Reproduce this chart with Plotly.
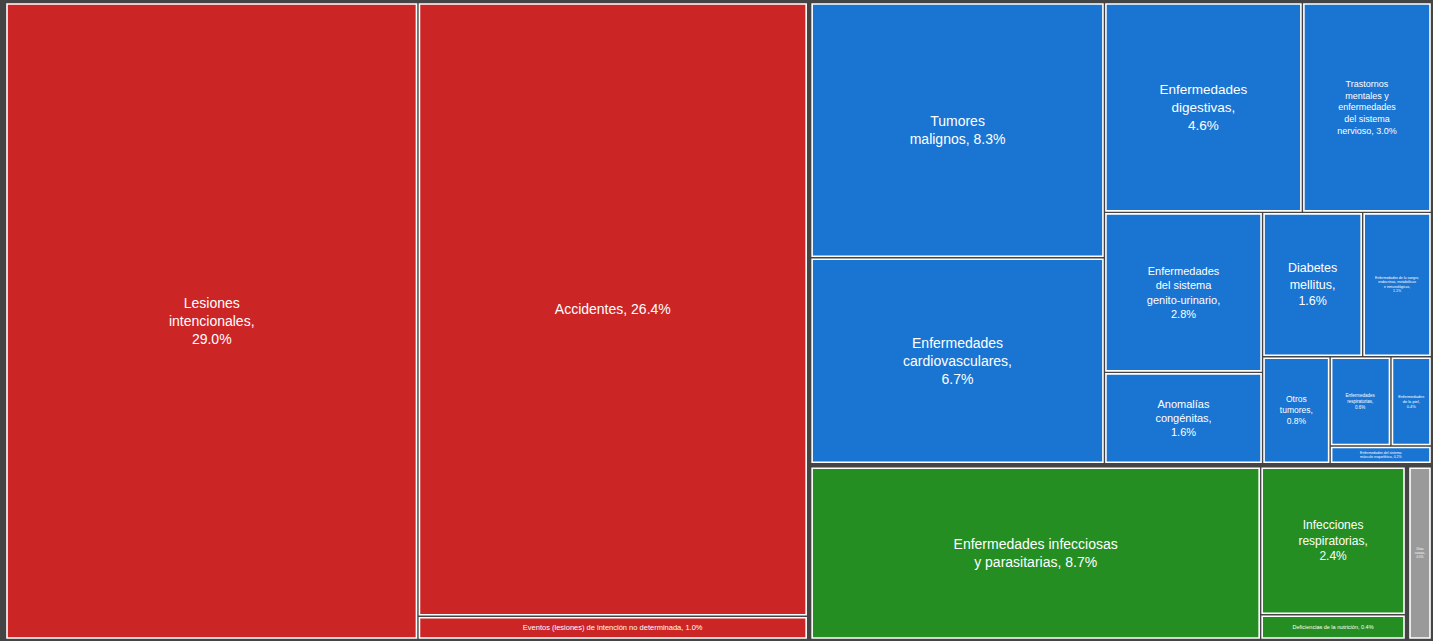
import plotly.graph_objects as go

# Hierarchy data
group_ids = ["lesiones", "no_transmisibles", "transmisibles", "otras"]

leaf_ids = [
    "intencionales", "accidentes", "eventos",
    "tumores", "cardio", "digestivas", "trastornos", "genito", "anomalias",
    "diabetes", "endocrinas", "otros_tumores", "respiratorias_cr", "piel", "musculo",
    "infecciosas", "inf_resp", "nutricion",
    "mal_definidas",
]
leaf_parents = [
    "lesiones", "lesiones", "lesiones",
    "no_transmisibles", "no_transmisibles", "no_transmisibles", "no_transmisibles",
    "no_transmisibles", "no_transmisibles", "no_transmisibles", "no_transmisibles",
    "no_transmisibles", "no_transmisibles", "no_transmisibles", "no_transmisibles",
    "transmisibles", "transmisibles", "transmisibles",
    "otras",
]
leaf_values = [
    29.0, 26.4, 1.0,
    8.3, 6.7, 4.6, 3.0, 2.8, 1.6, 1.6, 1.1, 0.8, 0.6, 0.4, 0.2,
    8.7, 2.4, 0.4,
    0.5,
]
leaf_text = [
    "Lesiones<br>intencionales,<br>29.0%",
    "Accidentes, 26.4%",
    "Eventos (lesiones) de intención no determinada, 1.0%",
    "Tumores<br>malignos, 8.3%",
    "Enfermedades<br>cardiovasculares,<br>6.7%",
    "Enfermedades<br>digestivas,<br>4.6%",
    "Trastornos<br>mentales y<br>enfermedades<br>del sistema<br>nervioso, 3.0%",
    "Enfermedades<br>del sistema<br>genito-urinario,<br>2.8%",
    "Anomalías<br>congénitas,<br>1.6%",
    "Diabetes<br>mellitus,<br>1.6%",
    "Enfermedades de la sangre,<br>endocrinas, metabólicas<br>e inmunológicas,<br>1.1%",
    "Otros<br>tumores,<br>0.8%",
    "Enfermedades<br>respiratorias,<br>0.6%",
    "Enfermedades<br>de la piel,<br>0.4%",
    "Enfermedades del sistema<br>músculo esquelético, 0.2%",
    "Enfermedades infecciosas<br>y parasitarias, 8.7%",
    "Infecciones<br>respiratorias,<br>2.4%",
    "Deficiencias de la nutrición, 0.4%",
    "Otras<br>causas,<br>0.5%",
]
leaf_font_sizes = [
    14, 14, 7.5,
    14, 14, 13.5, 9, 11, 11, 12.5, 3.5, 8.5, 4.5, 4, 3.5,
    14, 12, 5.5,
    3,
]
RED, BLUE, GREEN, GRAY = "#CC2526", "#1A74D2", "#248E22", "#9A9A9A"
leaf_colors = [RED] * 3 + [BLUE] * 12 + [GREEN] * 3 + [GRAY]
DARK = "#444444"

ids = ["root"] + group_ids + leaf_ids
parents = [""] + ["root"] * len(group_ids) + leaf_parents
values = [0] + [0] * len(group_ids) + leaf_values
texts = [""] + [""] * len(group_ids) + leaf_text
colors = [DARK] + [DARK] * len(group_ids) + leaf_colors
sizes = [8] + [8] * len(group_ids) + leaf_font_sizes
font_colors = [DARK] * (1 + len(group_ids)) + ["#FFFFFF"] * len(leaf_ids)
line_w = [0] + [0] * len(group_ids) + [1.6] * len(leaf_ids)
line_c = [DARK] * (1 + len(group_ids)) + ["#FFFFFF"] * len(leaf_ids)

fig = go.Figure(go.Treemap(
    ids=ids,
    labels=ids,
    parents=parents,
    values=values,
    text=texts,
    branchvalues="remainder",
    texttemplate="%{text}",
    textposition="middle center",
    textfont=dict(family="Liberation Sans, Arial, sans-serif", color=font_colors, size=sizes),
    marker=dict(colors=colors, line=dict(width=line_w, color=line_c),
                pad=dict(t=1.5, l=1.5, r=1.5, b=1.5)),
    tiling=dict(packing="squarify", squarifyratio=1.2),
    pathbar=dict(visible=False),
    sort=True,
    hoverinfo="skip",
))
fig.update_layout(
    width=1433, height=641,
    margin=dict(l=4, r=0, t=1, b=0),
    paper_bgcolor=DARK,
    plot_bgcolor=DARK,
)
fig.write_html(
    "out.html",
    config={"displayModeBar": False},
    post_script=(
        "document.body.style.margin='0';"
        "document.body.style.background='#444444';"
        "document.documentElement.style.overflow='hidden';"
        "document.body.style.overflow='hidden';"
    ),
)
